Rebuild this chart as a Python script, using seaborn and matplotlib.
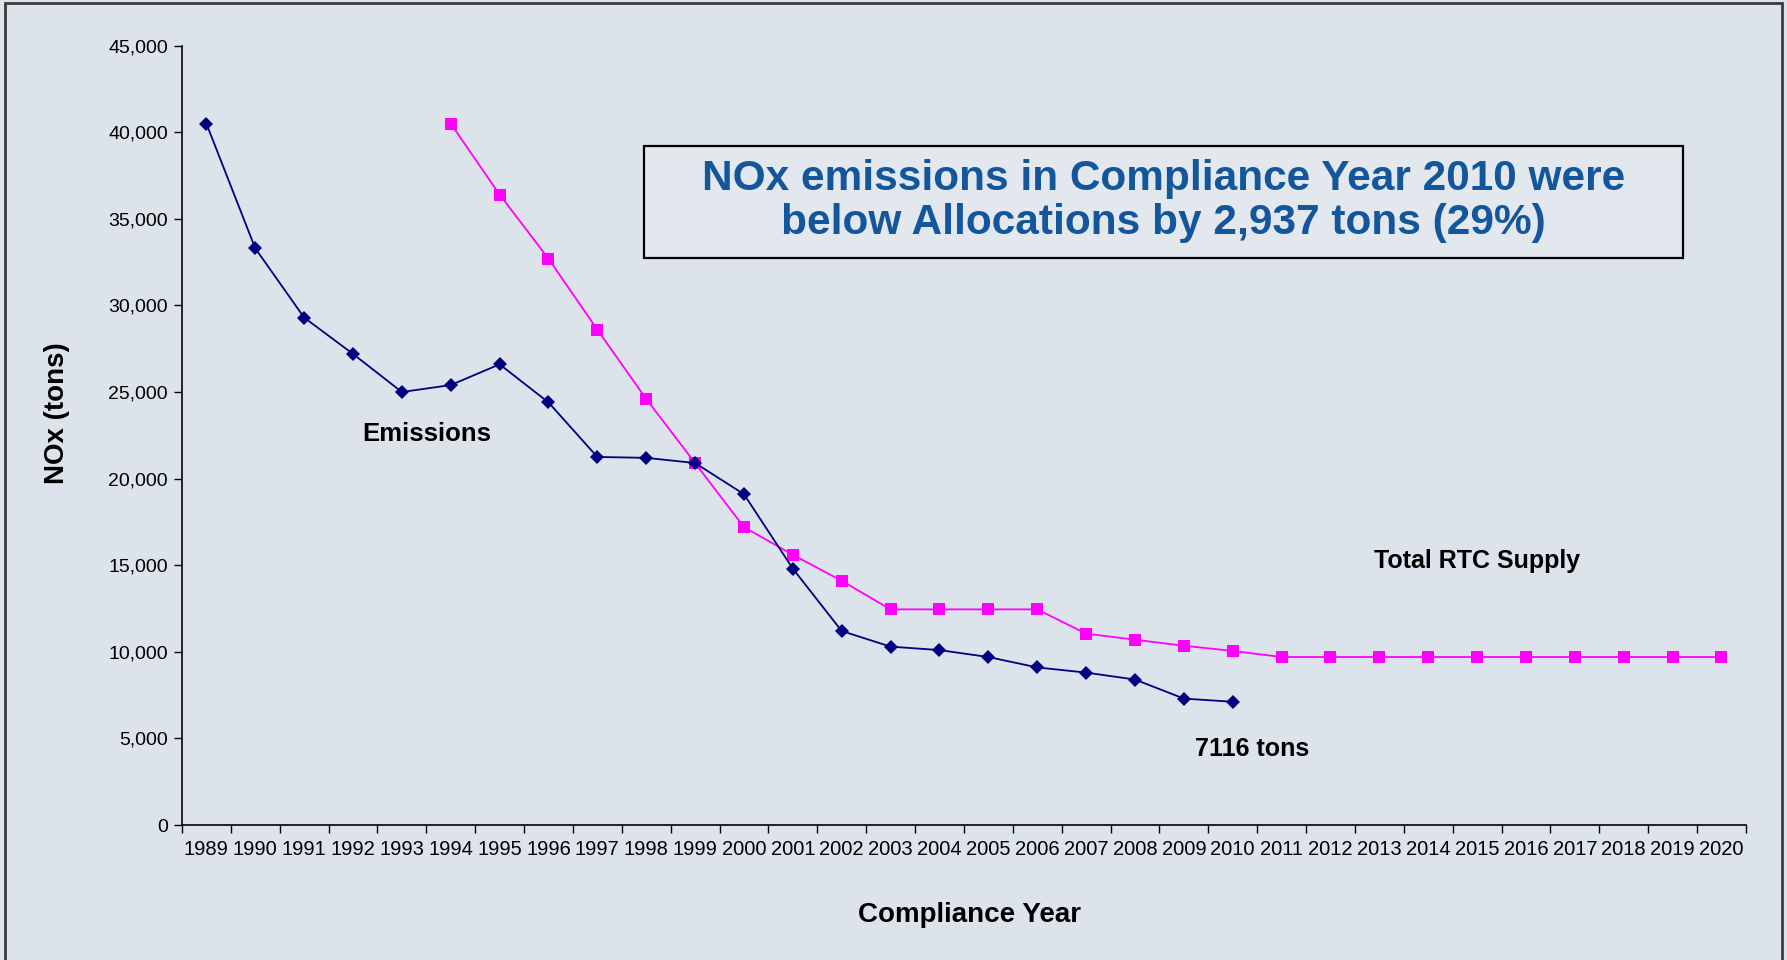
import numpy as np
import pandas as pd
import seaborn as sns
import matplotlib.pyplot as plt
from matplotlib.patches import Rectangle
from matplotlib.ticker import FuncFormatter, MultipleLocator

# data
years = list(range(1989, 2021))
emission_years = list(range(1989, 2011))
emissions = [40500, 33300, 29300, 27200, 25000, 25400, 26600, 24400, 21250, 21200,
             20900, 19100, 14800, 11200, 10300, 10100, 9700, 9100, 8800, 8400,
             7300, 7116]
supply_years = list(range(1994, 2021))
rtc_supply = [40500, 36400, 32700, 28600, 24600, 20900, 17200, 15600, 14100, 12450,
              12450, 12450, 12450, 11050, 10700, 10350, 10053,
              9700, 9700, 9700, 9700, 9700, 9700, 9700, 9700, 9700, 9700]
y_ticks = list(range(0, 45001, 5000))

em_df = pd.DataFrame({'year': emission_years, 'tons': emissions})
rtc_df = pd.DataFrame({'year': supply_years, 'tons': rtc_supply})

sns.set_style('ticks')
plt.rcParams['font.family'] = ['Liberation Sans', 'DejaVu Sans']
plt.rcParams['text.color'] = 'black'
plt.rcParams['xtick.color'] = 'black'
plt.rcParams['ytick.color'] = 'black'
plt.rcParams['xtick.labelcolor'] = 'black'
plt.rcParams['ytick.labelcolor'] = 'black'

bg = '#dce3eb'
fig = plt.figure(figsize=(17.87, 9.6), dpi=100, facecolor=bg)
ax = fig.add_axes([0.1018, 0.1406, 0.8752, 0.8119])
ax.set_facecolor('none')

sns.lineplot(data=rtc_df, x='year', y='tons', ax=ax, color='#ff00ff', lw=1.3,
             marker='s', markersize=9, markeredgecolor='#ff00ff', markeredgewidth=0)
sns.lineplot(data=em_df, x='year', y='tons', ax=ax, color='#000080', lw=1.3,
             marker='D', markersize=7, markeredgecolor='#000080', markeredgewidth=0)

ax.set_xlim(years[0] - 0.5, years[-1] + 0.5)
ax.set_ylim(0, 45000)
ax.set_xticks(years)
ax.set_xticklabels([str(y) for y in years])
ax.xaxis.set_minor_locator(MultipleLocator(1, offset=0.5))
ax.set_yticks(y_ticks)
ax.yaxis.set_major_formatter(FuncFormatter(lambda v, p: f'{int(v):,}'))
ax.tick_params(axis='x', which='major', length=0, pad=11, labelsize=14.5)
ax.tick_params(axis='x', which='minor', length=6, width=1, color='black')
ax.tick_params(axis='y', length=6, width=1, labelsize=14, pad=4)
ax.set_xlabel('')
ax.set_ylabel('')
for s in ['top', 'right']:
    ax.spines[s].set_visible(False)
for s in ['left', 'bottom']:
    ax.spines[s].set_color('black')
    ax.spines[s].set_linewidth(1.2)

ax.text(1993.5, 22600, 'Emissions', fontsize=18.5, fontweight='bold', ha='center', va='center')
ax.text(2015.0, 15250, 'Total RTC Supply', fontsize=18, fontweight='bold', ha='center', va='center')
ax.text(2010.4, 4400, '7116 tons', fontsize=18, fontweight='bold', ha='center', va='center')

fig.text(0.5428, 0.0469, 'Compliance Year', fontsize=20, fontweight='bold', ha='center', va='center')
fig.text(0.0319, 0.5698, 'NOx (tons)', fontsize=20, fontweight='bold', rotation=90,
         ha='center', va='center')

# callout box
fig.add_artist(Rectangle((0.3604, 0.7313), 0.5814, 0.1167, transform=fig.transFigure,
                         facecolor='#e3e8ee', edgecolor='black', lw=1.6))
fig.text(0.6511, 0.7905, 'NOx emissions in Compliance Year 2010 were\nbelow Allocations by 2,937 tons (29%)',
         fontsize=30.5, fontweight='bold', color='#13569b', ha='center', va='center',
         linespacing=1.14)

# slide frame
fig.add_artist(Rectangle((0.0028, -0.1), 0.9944, 1.0969, transform=fig.transFigure,
                         fill=False, edgecolor='#3a3a3a', lw=2))

fig.savefig('out.png', dpi=100, facecolor=bg)
